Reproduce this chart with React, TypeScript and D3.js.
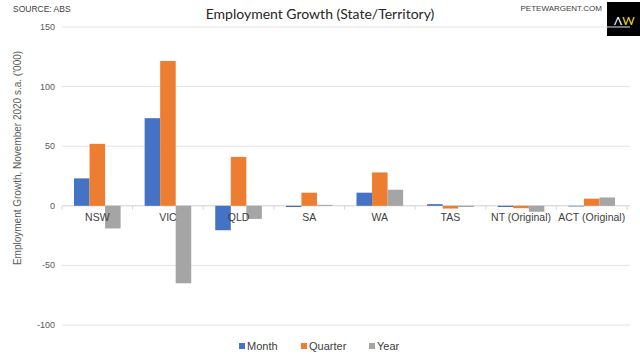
import React from 'react'
import * as d3 from 'd3'

const categories = ['NSW', 'VIC', 'QLD', 'SA', 'WA', 'TAS', 'NT (Original)', 'ACT (Original)']
const series = ['Month', 'Quarter', 'Year']
const month = [23, 73.5, -20.5, -1, 11, 1.4, -1, -0.5]
const quarter = [52, 121.5, 41, 11, 28, -2.3, -2, 6]
const year = [-19, -65, -11, 0.8, 13.5, -1, -5, 7]
const yTicks = [-100, -50, 0, 50, 100, 150]
const colors = ['#4472C4', '#ED7D31', '#A5A5A5']

const W = 640
const H = 354
const font = '"Liberation Sans", Arial, sans-serif'

export default function App() {
  const values = [month, quarter, year]
  const x0 = d3.scaleBand().domain(categories).range([62, 627]).padding(0)
  const bw = x0.bandwidth()
  const x1 = d3.scaleBand().domain(series).range([bw * 0.17, bw * 0.83]).padding(0)
  const y = d3.scaleLinear().domain([-100, 150]).range([325, 27])

  return (
    <svg width={W} height={H} style={{ position: 'absolute', left: 0, top: 0, background: '#fff' }}>
      <rect width={W} height={H} fill="#fff" />
      <text x={13} y={12} fontSize={8.5} fill="#404040" fontFamily={font}>SOURCE: ABS</text>
      <text x={320} y={19} textAnchor="middle" fontSize={14} fill="#262626" fontFamily="Lato, 'Open Sans', sans-serif">
        Employment Growth (State/Territory)
      </text>
      <text x={602} y={11} textAnchor="end" fontSize={8} fill="#404040" fontFamily={font}>PETEWARGENT.COM</text>
      <rect x={607} y={2} width={33} height={34} fill="#000" />
      <text x={614} y={25} fontSize={12} fontFamily="Lato, sans-serif">
        <tspan fill="#fff">Λ</tspan>
        <tspan fill="#E5DF2E">W</tspan>
      </text>

      {yTicks.map(t => (
        <g key={t}>
          <line x1={62} x2={630} y1={y(t)} y2={y(t)} stroke={t === 0 ? '#D0D0D0' : '#E4E4E4'} strokeWidth={1} />
          <text x={55} y={y(t) + 3} textAnchor="end" fontSize={9} fill="#595959" fontFamily={font}>{t}</text>
        </g>
      ))}
      {categories.map(c => (
        <line key={'tk' + c} x1={x0(c)!} x2={x0(c)!} y1={y(0)} y2={y(0) + 4} stroke="#D9D9D9" />
      ))}
      <line x1={627} x2={627} y1={y(0)} y2={y(0) + 4} stroke="#D9D9D9" />

      {categories.map((c, i) => (
        <g key={c} transform={`translate(${x0(c)},0)`}>
          {series.map((s, j) => {
            const v = values[j][i]
            return (
              <rect
                key={s}
                x={x1(s)!}
                y={Math.min(y(v), y(0))}
                width={x1.bandwidth()}
                height={Math.abs(y(v) - y(0))}
                fill={colors[j]}
              />
            )
          })}
        </g>
      ))}

      {categories.map(c => (
        <text key={'l' + c} x={x0(c)! + bw / 2} y={221} textAnchor="middle" fontSize={10.5} fill="#404040" fontFamily={font}>
          {c}
        </text>
      ))}

      <text
        transform={`translate(21,${y(25) - 18}) rotate(-90)`}
        textAnchor="middle"
        fontSize={10}
        fill="#595959"
        fontFamily={font}
      >
        Employment Growth, November 2020 s.a. ('000)
      </text>

      {series.map((s, j) => {
        const lx = [239, 301, 369][j]
        return (
          <g key={'lg' + s}>
            <rect x={lx} y={343} width={6} height={6} fill={colors[j]} />
            <text x={lx + 8} y={350} fontSize={11} fill="#404040" fontFamily={font}>{s}</text>
          </g>
        )
      })}
    </svg>
  )
}
